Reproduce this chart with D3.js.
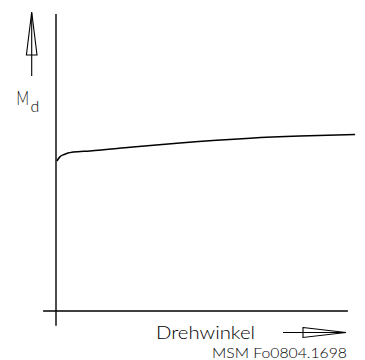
<!DOCTYPE html>
<html>
<head>
<meta charset="utf-8">
<script src="https://cdn.jsdelivr.net/npm/d3@7"></script>
<style>
  body { margin: 0; background: #fff; }
  svg { display: block; }
  text { font-family: Lato, "DejaVu Sans", sans-serif; font-weight: 300; fill: #000; }
</style>
</head>
<body>
<svg></svg>
<script>
// curve (x = Drehwinkel, y = M_d, arbitrary units 0..100)
let angle  = [0.3, 1.3, 2.7, 4, 5.7, 11.3, 24.7, 41.3, 64.7, 81.3, 99.7]
let torque = [50.5, 51.9, 52.7, 53.2, 53.5, 53.9, 55.1, 56.6, 58.2, 58.9, 59.4]

let width = 365
let height = 360

let svg = d3.select('svg')
  .attr('width', width)
  .attr('height', height)

let xScale = d3.scaleLinear().domain([0, 100]).range([56, 356])
let yScale = d3.scaleLinear().domain([0, 100]).range([311, 14])

let values = angle.map((a, i) => ({ x: a, y: torque[i] }))

// axes: plain lines crossing a bit past the origin
svg.append('line')
  .attr('x1', xScale(-4.3)).attr('x2', xScale(97.3))
  .attr('y1', yScale(0)).attr('y2', yScale(0))
  .attr('stroke', '#000').attr('stroke-width', 1.4)

svg.append('line')
  .attr('x1', xScale(0)).attr('x2', xScale(0))
  .attr('y1', yScale(100)).attr('y2', yScale(-5))
  .attr('stroke', '#000').attr('stroke-width', 1.4)

let line = d3.line()
  .x((d) => xScale(d.x))
  .y((d) => yScale(d.y))
  .curve(d3.curveMonotoneX)

svg.append('path')
  .datum(values)
  .attr('d', line)
  .attr('fill', 'none')
  .attr('stroke', '#000')
  .attr('stroke-width', 1.5)

// up arrow next to M_d
let ax = 31.7
svg.append('line')
  .attr('x1', ax).attr('x2', ax).attr('y1', 76).attr('y2', 13)
  .attr('stroke', '#000').attr('stroke-width', 1.1)
svg.append('path')
  .attr('d', `M${ax},12 L${ax - 5.3},55 L${ax + 5.3},55 Z`)
  .attr('fill', 'none').attr('stroke', '#000').attr('stroke-width', 1.1)

svg.append('text')
  .attr('transform', 'translate(16.5,105) scale(0.72,1)')
  .style('font-size', '19px')
  .text('M')
svg.append('text')
  .attr('x', 30.5).attr('y', 112)
  .style('font-size', '16px')
  .text('d')

// right arrow next to Drehwinkel
let ay = 332.5
svg.append('line')
  .attr('x1', 283).attr('x2', 345).attr('y1', ay).attr('y2', ay)
  .attr('stroke', '#000').attr('stroke-width', 1.1)
svg.append('path')
  .attr('d', `M303,${ay - 5} L346,${ay} L303,${ay + 5} Z`)
  .attr('fill', 'none').attr('stroke', '#000').attr('stroke-width', 1.1)

svg.append('text')
  .attr('x', 156).attr('y', 339)
  .style('font-size', '18px')
  .attr('textLength', 99).attr('lengthAdjust', 'spacingAndGlyphs')
  .text('Drehwinkel')

svg.append('text')
  .attr('x', 212).attr('y', 358)
  .style('font-size', '13px')
  .attr('textLength', 135).attr('lengthAdjust', 'spacingAndGlyphs')
  .text('MSM Fo0804.1698')
</script>
</body>
</html>
